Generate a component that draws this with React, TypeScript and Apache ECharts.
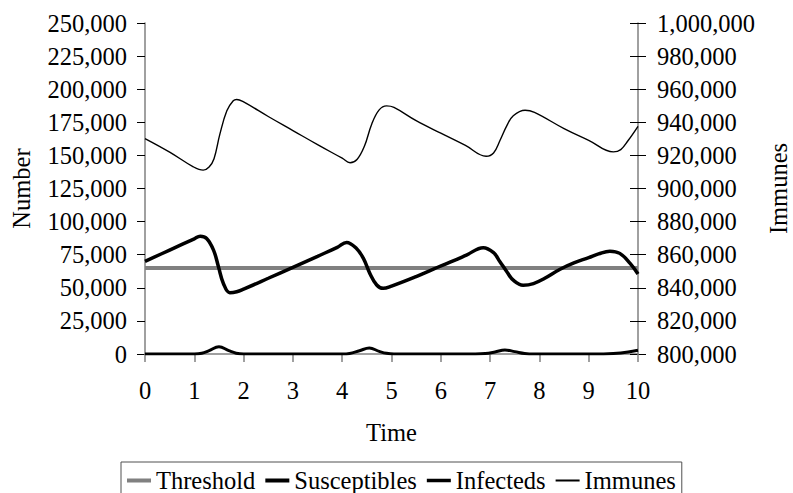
import React, { useEffect, useRef } from "react";
import * as echarts from "echarts";

// ---- Data ----
const xTicks = [0, 1, 2, 3, 4, 5, 6, 7, 8, 9, 10];

const thresholdT = [0, 10];
const thresholdV = [65000, 65000];

const susT = [0, 0.5, 1.0, 1.12, 1.25, 1.39, 1.49, 1.59, 1.72, 1.86, 2.0, 2.5, 3.0, 3.5, 3.9, 4.09, 4.29, 4.43, 4.56, 4.7, 4.83, 5.0, 5.5, 5.85, 6.2, 6.52, 6.86, 7.07, 7.2, 7.34, 7.47, 7.67, 7.88, 8.1, 8.42, 8.7, 9.0, 9.2, 9.43, 9.63, 9.84, 10.0];
const susV = [70000, 78500, 87000, 89000, 87300, 78500, 65900, 53300, 46300, 47000, 49000, 57200, 65500, 73800, 80500, 84300, 79700, 72200, 60900, 52100, 49600, 51300, 58500, 64100, 69500, 74700, 80300, 76500, 69700, 62100, 55800, 52000, 53200, 57000, 64000, 68800, 72800, 75600, 77700, 76000, 68400, 60400];

const infT = [0, 1.0, 1.15, 1.3, 1.5, 1.7, 1.85, 2.0, 4.0, 4.15, 4.35, 4.55, 4.75, 4.9, 5.05, 6.7, 6.9, 7.1, 7.3, 7.5, 7.7, 7.9, 9.3, 9.5, 9.8, 10.0];
const infV = [0, 0, 500, 2500, 5500, 2500, 600, 0, 0, 400, 2500, 4500, 2000, 500, 0, 0, 300, 1500, 3000, 1800, 400, 0, 0, 300, 1500, 2800];

const immT = [0, 0.5, 0.98, 1.18, 1.3, 1.4, 1.52, 1.66, 1.79, 1.86, 2.0, 2.5, 3.0, 3.5, 4.0, 4.16, 4.3, 4.45, 4.6, 4.75, 4.9, 5.05, 5.5, 6.0, 6.5, 6.92, 7.07, 7.2, 7.34, 7.47, 7.71, 7.9, 8.5, 9.0, 9.5, 9.65, 9.8, 10.0];
const immV = [930200, 922000, 913100, 911100, 913000, 918000, 933000, 947000, 953000, 953800, 952300, 943500, 935000, 926500, 918300, 915600, 917500, 925500, 939000, 947500, 949900, 949000, 941000, 933400, 926000, 919500, 921500, 929000, 938000, 944000, 947300, 946000, 936200, 929100, 922100, 923500, 929000, 937600];

const seriesNames = ["Threshold", "Susceptibles", "Infecteds", "Immunes"];

const pairs = (t: number[], v: number[]) => t.map((x, i) => [x, v[i]]);
const fmt = (v: number) => Math.round(v).toLocaleString("en-US");

const FONT = "Liberation Serif, Times New Roman, serif";
const FS = 24.5;

// legend icon: a horizontal bar of given thickness inside a 24x14 box
const bar = (th: number) => {
  const y0 = 7 - th / 2;
  const y1 = 7 + th / 2;
  return `path://M0,0L0.01,0L0.01,0.01ZM0,${y0}L24,${y0}L24,${y1}L0,${y1}ZM23.99,14L24,14L24,13.99Z`;
};

export default function App() {
  const ref = useRef<HTMLDivElement>(null);

  useEffect(() => {
    if (!ref.current) return;
    const chart = echarts.init(ref.current, null, { renderer: "svg" });
    const axisText = { color: "#000", fontFamily: FONT, fontSize: FS };
    const curve = { symbol: "none", smooth: 0.4, smoothMonotone: "none" };
    chart.setOption({
      animation: false,
      backgroundColor: "#fff",
      textStyle: { fontFamily: FONT, color: "#000" },
      grid: { left: 145, right: 155, top: 23, bottom: 139, containLabel: false, outerBoundsMode: "none" },
      legend: {
        left: 121,
        top: 462,
        orient: "horizontal",
        padding: [6, 6, 6, 6],
        itemGap: 10,
        itemWidth: 24,
        itemHeight: 14,
        borderColor: "#505050",
        borderWidth: 1,
        textStyle: { ...axisText },
        data: [
          { name: seriesNames[0], icon: bar(4), itemStyle: { color: "#808080" } },
          { name: seriesNames[1], icon: bar(4), itemStyle: { color: "#000" } },
          { name: seriesNames[2], icon: bar(3.5), itemStyle: { color: "#000" } },
          { name: seriesNames[3], icon: bar(2), itemStyle: { color: "#000" } },
        ],
      },
      xAxis: {
        type: "value",
        min: 0,
        max: 10,
        interval: 1,
        name: "Time",
        nameLocation: "middle",
        nameGap: 66,
        nameTextStyle: { ...axisText },
        axisLine: { show: true, onZero: false, lineStyle: { color: "#808080", width: 1.5 } },
        axisTick: { show: true, length: 8, lineStyle: { color: "#808080", width: 1.5 } },
        axisLabel: { ...axisText, margin: 24, formatter: (v: number) => String(v) },
        splitLine: { show: false },
        data: xTicks,
      },
      yAxis: [
        {
          type: "value",
          position: "left",
          min: 0,
          max: 250000,
          interval: 25000,
          name: "Number",
          nameLocation: "middle",
          nameGap: 111,
          nameTextStyle: { ...axisText },
          axisLine: { show: true, lineStyle: { color: "#808080", width: 1.5 } },
          axisTick: { show: true, length: 8, lineStyle: { color: "#000", width: 1 } },
          axisLabel: { ...axisText, margin: 18, formatter: fmt },
          splitLine: { show: false },
        },
        {
          type: "value",
          position: "right",
          min: 800000,
          max: 1000000,
          interval: 20000,
          name: "Immunes",
          nameLocation: "middle",
          nameGap: 128,
          nameTextStyle: { ...axisText },
          axisLine: { show: true, lineStyle: { color: "#808080", width: 1.5 } },
          axisTick: { show: true, length: 8, lineStyle: { color: "#000", width: 1 } },
          axisLabel: { ...axisText, margin: 19, formatter: fmt },
          splitLine: { show: false },
        },
        {
          type: "value",
          position: "right",
          min: 800000,
          max: 1000000,
          interval: 20000,
          axisLine: { show: false },
          axisTick: { show: true, inside: true, length: 8, lineStyle: { color: "#000", width: 1 } },
          axisLabel: { show: false },
          splitLine: { show: false },
        },
      ],
      series: [
        {
          name: "Threshold",
          type: "line",
          yAxisIndex: 0,
          data: pairs(thresholdT, thresholdV),
          symbol: "none",
          lineStyle: { color: "#808080", width: 4 },
          itemStyle: { color: "#808080" },
          z: 2,
        },
        {
          name: "Susceptibles",
          type: "line",
          yAxisIndex: 0,
          data: pairs(susT, susV),
          ...curve,
          lineStyle: { color: "#000", width: 3.5 },
          itemStyle: { color: "#000" },
          z: 3,
        },
        {
          name: "Infecteds",
          type: "line",
          yAxisIndex: 0,
          data: pairs(infT, infV),
          ...curve,
          lineStyle: { color: "#000", width: 3 },
          itemStyle: { color: "#000" },
          z: 4,
        },
        {
          name: "Immunes",
          type: "line",
          yAxisIndex: 1,
          data: pairs(immT, immV),
          ...curve,
          lineStyle: { color: "#000", width: 1.4 },
          itemStyle: { color: "#000" },
          z: 5,
        },
      ],
    });
    return () => chart.dispose();
  }, []);

  return <div ref={ref} style={{ width: 793, height: 493, position: "absolute", left: 0, top: 0 }} />;
}
